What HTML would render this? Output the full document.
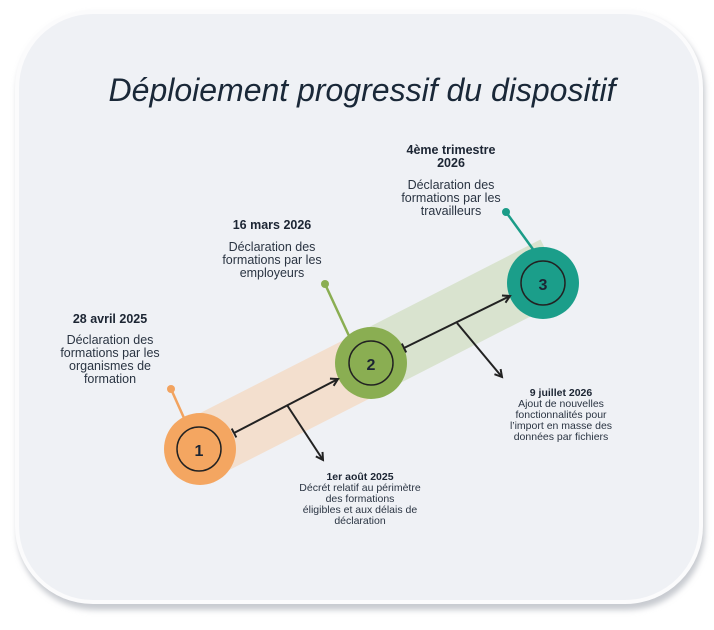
<!DOCTYPE html>
<html><head><meta charset="utf-8"><style>
html,body{margin:0;padding:0;background:#fff;}
svg{display:block;}
text{font-family:"Liberation Sans",sans-serif;fill:#2a3442;}
.b{font-weight:bold;fill:#1c2533;}
</style></head><body>
<svg width="714" height="630" viewBox="0 0 714 630" xmlns="http://www.w3.org/2000/svg">
<defs>
<filter id="sh" x="-10%" y="-10%" width="120%" height="120%"><feGaussianBlur stdDeviation="3"/></filter>
<marker id="ah" markerWidth="10" markerHeight="10" refX="8" refY="5" orient="auto" markerUnits="userSpaceOnUse"><path d="M1,1 L8,5 L1,9" fill="none" stroke="#222" stroke-width="2"/></marker>
<marker id="bar" markerWidth="10" markerHeight="12" refX="1" refY="6" orient="auto" markerUnits="userSpaceOnUse"><path d="M1,1 L1,11" stroke="#222" stroke-width="2"/></marker>
</defs>
<rect x="17" y="14" width="688" height="596" rx="78" fill="#c8cbd0" filter="url(#sh)"/>
<rect x="15" y="10" width="688" height="594" rx="78" fill="#fbfbfc"/>
<rect x="19" y="14" width="680" height="586" rx="74" fill="#eff1f5"/>
<text x="362" y="101" text-anchor="middle" font-size="32" font-style="italic" style="fill:#1a2838">Déploiement progressif du dispositif</text>
<line x1="200" y1="449" x2="371" y2="362" stroke="#f3dfce" stroke-width="64"/>
<line x1="371" y1="362" x2="555" y2="268" stroke="#d9e3cf" stroke-width="64"/>
<line x1="171" y1="389" x2="184" y2="418" stroke="#f2a35f" stroke-width="2.5"/>
<circle cx="171" cy="389" r="4" fill="#f2a35f"/>
<line x1="325" y1="284" x2="350" y2="338" stroke="#8aae52" stroke-width="2.5"/>
<circle cx="325" cy="284" r="4" fill="#8aae52"/>
<line x1="506" y1="212" x2="535" y2="252" stroke="#1b9c88" stroke-width="2.5"/>
<circle cx="506" cy="212" r="4" fill="#1b9c88"/>
<circle cx="200" cy="449" r="36" fill="#f4a661"/>
<circle cx="199" cy="449" r="22" fill="none" stroke="#222" stroke-width="1.5"/>
<text x="199" y="456" text-anchor="middle" font-size="16" class="b">1</text>
<circle cx="371" cy="363" r="36" fill="#8aae52"/>
<circle cx="371" cy="363" r="22" fill="none" stroke="#222" stroke-width="1.5"/>
<text x="371" y="370" text-anchor="middle" font-size="16" class="b">2</text>
<circle cx="543" cy="283" r="36" fill="#1b9e8a"/>
<circle cx="543" cy="283" r="22" fill="none" stroke="#222" stroke-width="1.5"/>
<text x="543" y="290" text-anchor="middle" font-size="16" class="b">3</text>
<line x1="234" y1="433" x2="338" y2="379" stroke="#222" stroke-width="2" marker-start="url(#bar)" marker-end="url(#ah)"/>
<line x1="287" y1="405" x2="323" y2="460" stroke="#222" stroke-width="2" marker-end="url(#ah)"/>
<line x1="404" y1="348" x2="510" y2="296" stroke="#222" stroke-width="2" marker-start="url(#bar)" marker-end="url(#ah)"/>
<line x1="457" y1="323" x2="502" y2="377" stroke="#222" stroke-width="2" marker-end="url(#ah)"/>
<g font-size="12.5" text-anchor="middle">
<text x="110" y="323" class="b">28 avril 2025</text>
<text x="110" y="344">Déclaration des</text>
<text x="110" y="357">formations par les</text>
<text x="110" y="370">organismes de</text>
<text x="110" y="383">formation</text>
<text x="272" y="229" class="b">16 mars 2026</text>
<text x="272" y="251">Déclaration des</text>
<text x="272" y="264">formations par les</text>
<text x="272" y="277">employeurs</text>
<text x="451" y="154" class="b">4ème trimestre</text>
<text x="451" y="167" class="b">2026</text>
<text x="451" y="189">Déclaration des</text>
<text x="451" y="202">formations par les</text>
<text x="451" y="215">travailleurs</text>
</g>
<g font-size="10.5" text-anchor="middle">
<text x="360" y="480" class="b">1er août 2025</text>
<text x="360" y="491">Décrét relatif au périmètre</text>
<text x="360" y="502">des formations</text>
<text x="360" y="513">éligibles et aux délais de</text>
<text x="360" y="524">déclaration</text>
<text x="561" y="396" class="b">9 juillet 2026</text>
<text x="561" y="407">Ajout de nouvelles</text>
<text x="561" y="418">fonctionnalités pour</text>
<text x="561" y="429">l’import en masse des</text>
<text x="561" y="440">données par fichiers</text>
</g>
</svg>
</body></html>
